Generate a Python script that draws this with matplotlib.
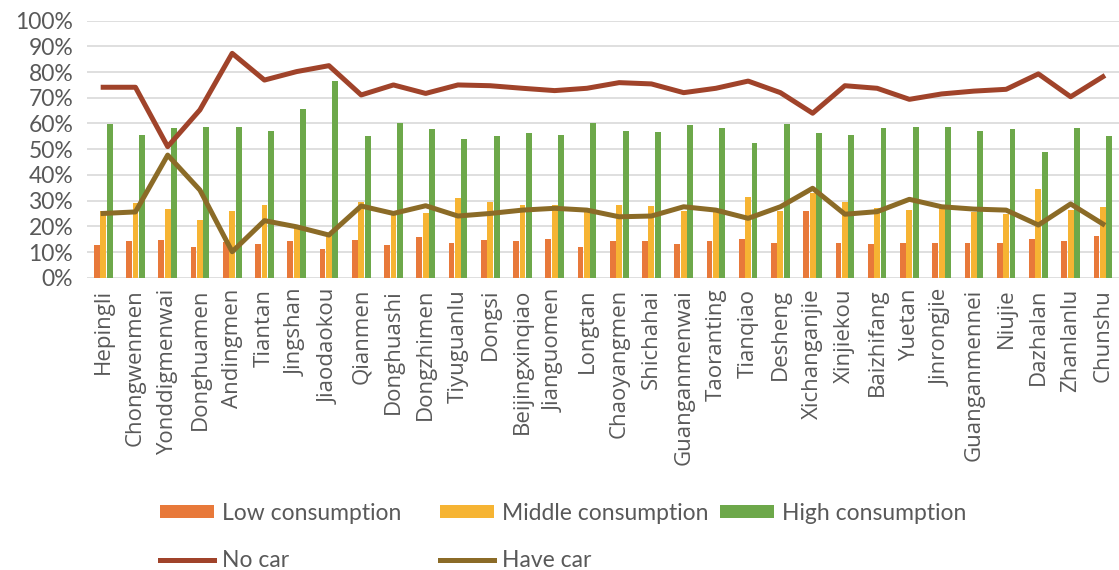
import numpy as np
import matplotlib
matplotlib.use("Agg")
import matplotlib.pyplot as plt
from matplotlib.ticker import PercentFormatter

stations = ["Hepingli", "Chongwenmen", "Yonddigmenwai", "Donghuamen", "Andingmen",
	"Tiantan", "Jingshan", "Jiaodaokou", "Qianmen", "Donghuashi", "Dongzhimen",
	"Tiyuguanlu", "Dongsi", "Beijingxinqiao", "Jianguomen", "Longtan", "Chaoyangmen",
	"Shichahai", "Guanganmenwai", "Taoranting", "Tianqiao", "Desheng", "Xichanganjie",
	"Xinjiekou", "Baizhifang", "Yuetan", "Jinrongjie", "Guanganmennei", "Niujie",
	"Dazhalan", "Zhanlanlu", "Chunshu"]

low = [12.6, 14.2, 14.8, 12.1, 14.0, 13.1, 14.2, 11.0, 14.8, 12.6, 15.8, 13.6, 14.8,
	14.2, 15.2, 12.1, 14.2, 14.2, 13.1, 14.2, 15.2, 13.6, 25.8, 13.6, 13.1, 13.6,
	13.6, 13.6, 13.6, 15.2, 14.2, 16.2]
middle = [26.0, 29.0, 26.9, 22.6, 25.8, 28.4, 20.0, 17.0, 29.6, 24.4, 25.3, 31.0, 29.6,
	28.4, 28.4, 25.5, 28.4, 27.9, 26.0, 25.5, 31.5, 25.8, 32.8, 29.5, 27.0, 26.3,
	27.5, 25.6, 24.8, 34.6, 26.3, 27.4]
high = [59.8, 55.6, 58.2, 58.8, 58.8, 57.2, 65.6, 76.7, 55.1, 60.3, 57.7, 54.1, 55.1,
	56.2, 55.6, 60.3, 57.2, 56.7, 59.3, 58.2, 52.5, 59.8, 56.2, 55.6, 58.2, 58.8,
	58.8, 57.2, 57.7, 48.8, 58.2, 55.1]
no_car = [74.1, 74.1, 51.0, 65.3, 87.3, 76.9, 80.2, 82.5, 71.1, 75.0, 71.7, 75.0, 74.7,
	73.7, 72.8, 73.7, 75.9, 75.4, 72.0, 73.7, 76.5, 72.0, 64.0, 74.7, 73.7, 69.4,
	71.5, 72.6, 73.3, 79.3, 70.4, 78.2]
have_car = [25.0, 25.6, 47.7, 34.1, 10.1, 22.2, 19.8, 16.6, 27.9, 25.0, 28.0, 24.0, 25.0,
	26.3, 27.0, 26.3, 23.7, 24.0, 27.6, 26.3, 23.1, 27.6, 34.8, 24.7, 25.7, 30.5,
	27.6, 26.7, 26.3, 20.5, 28.7, 20.9]

plt.rcParams["font.family"] = ["Lato", "DejaVu Sans"]
text_color = "#595959"

figure = plt.figure(figsize = (11.19, 5.70), dpi = 100)
axes = figure.add_axes([0.0778, 0.5128, 0.9222, 0.4509])

x = np.arange(len(stations))
width = 0.18
bar_low = axes.bar(x - 0.2, low, width, color = "#E8793A", zorder = 2, label = "Low consumption")
bar_mid = axes.bar(x, middle, width, color = "#F6B433", zorder = 2, label = "Middle consumption")
bar_high = axes.bar(x + 0.2, high, width, color = "#6DA84A", zorder = 2, label = "High consumption")
line_no, = axes.plot(x, no_car, color = "#A0432A", linewidth = 3.6, zorder = 3, label = "No car")
line_have, = axes.plot(x, have_car, color = "#8B6B27", linewidth = 3.6, zorder = 3, label = "Have car")

axes.set_xlim(-0.5, len(stations) - 0.5)
axes.set_ylim(0, 100)
axes.set_yticks(np.arange(0, 101, 10))
axes.yaxis.set_major_formatter(PercentFormatter(decimals = 0))
axes.set_xticks(x)
axes.set_xticklabels(stations, rotation = 90, family = ["Open Sans", "DejaVu Sans"], fontsize = 16)
axes.tick_params(length = 0, labelcolor = text_color)
axes.tick_params(axis = "y", labelsize = 16.5, pad = 10)
axes.tick_params(axis = "x", pad = 8)
axes.grid(axis = "y", color = "#D9D9D9", linewidth = 1.2, zorder = 0)
for spine in axes.spines.values():
	spine.set_visible(False)

# Excel lays the legend out in fixed-width columns, so one legend per column
columns = [([bar_low, line_no], 0.143), ([bar_mid, line_have], 0.3932), ([bar_high], 0.6434)]
for handles, left in columns:
	legend = figure.legend(handles, [h.get_label() for h in handles],
		loc = "upper left", bbox_to_anchor = (left, 0.1184), frameon = False,
		fontsize = 16.5, labelcolor = text_color, handlelength = 2.36, handleheight = 0.5,
		handletextpad = 0.35, labelspacing = 1.16, borderpad = 0, borderaxespad = 0)

figure.savefig("out.png", dpi = 100)
